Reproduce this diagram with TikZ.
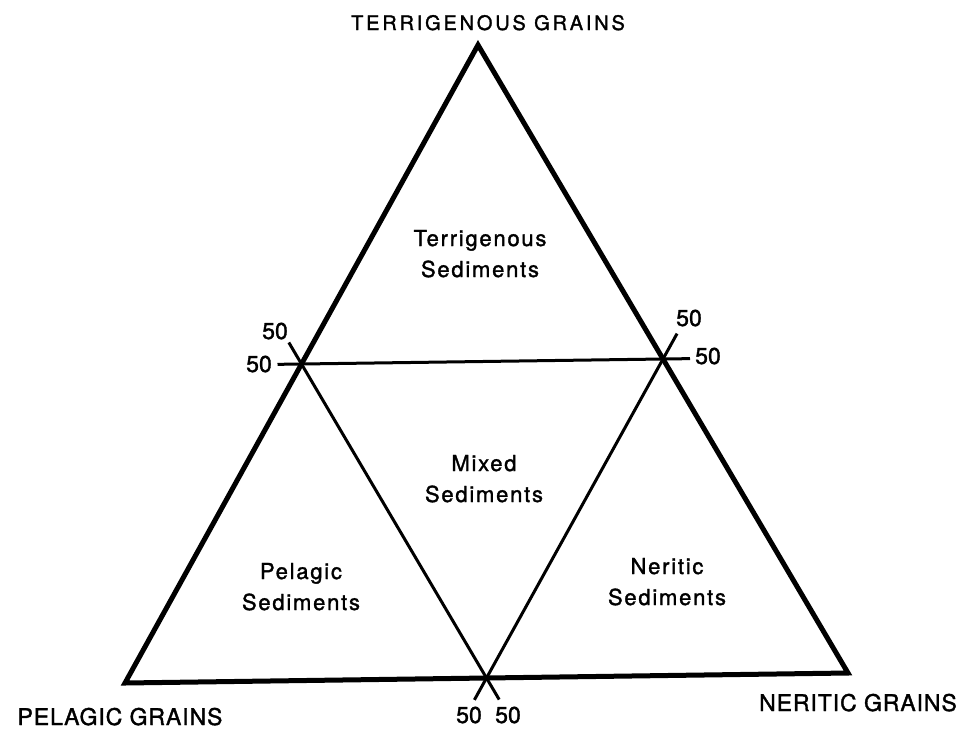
\documentclass[tikz,border=0pt]{standalone}
\usepackage{fontspec}
\setmainfont{TeX Gyre Heros}[FakeBold=1.5]
\usetikzlibrary{calc}
\tikzset{
  outer/.style={line width=5pt, line join=miter},
  inner/.style={line width=3pt},
  region/.style={align=center, font=\fontsize{22}{31}\selectfont\addfontfeature{LetterSpace=8,FakeBold=1.5}, inner sep=0pt, anchor=base},
  fifty/.style={font=\fontsize{23}{23}\selectfont\addfontfeature{FakeBold=1.5}, inner sep=0pt, anchor=base},
  title/.style={font=\fontsize{20}{20}\selectfont\addfontfeature{LetterSpace=14,FakeBold=1.5}, inner sep=0pt, anchor=base},
  corner/.style={font=\fontsize{23}{23}\selectfont\addfontfeature{LetterSpace=4,FakeBold=1.5}, inner sep=0pt, anchor=base},
}
\begin{document}
\begin{tikzpicture}[x=1pt,y=-1pt]
\useasboundingbox (0,0) rectangle (967,732);
% vertices
\coordinate (T) at (478,45);
\coordinate (PL) at (125,683);
\coordinate (NR) at (848,673);
% midpoints
\coordinate (L) at ($(T)!0.5!(PL)$);
\coordinate (R) at ($(T)!0.5!(NR)$);
\coordinate (B) at ($(PL)!0.5!(NR)$);
% tick ends
\coordinate (Lh) at ($(L)!-24pt!(R)$);
\coordinate (Rh) at ($(R)!-27pt!(L)$);
\coordinate (Ld) at ($(L)!-25pt!(B)$);
\coordinate (Bl) at ($(B)!-25pt!(L)$);
\coordinate (Rd) at ($(R)!-29pt!(B)$);
\coordinate (Br) at ($(B)!-25pt!(R)$);
% outer triangle
\draw[outer] (T) -- (PL) -- (NR) -- cycle;
% inner lines
\draw[inner] (Lh) -- (Rh);
\draw[inner] (Ld) -- (Bl);
\draw[inner] (Rd) -- (Br);
% region labels (base = last line)
\node[region] (terr) at (480,277) {Terrigenous\\Sediments};
\node[region] (mixed) at (484,502) {Mixed\\Sediments};
\node[region] (pel) at (301,610) {Pelagic\\Sediments};
\node[region] (ner) at (667,605) {Neritic\\Sediments};
% 50 labels
\node[fifty] (l1) at (275,339) {50};
\node[fifty] (l2) at (259,372) {50};
\node[fifty] (r1) at (689,326) {50};
\node[fifty] (r2) at (708,364) {50};
\node[fifty] (b1) at (469,723) {50};
\node[fifty] (b2) at (508,723) {50};
% corner labels
\node[title] (tg) at (488,30) {TERRIGENOUS GRAINS};
\node[corner] (pg) at (120,725) {PELAGIC GRAINS};
\node[corner] (ng) at (858,711) {NERITIC GRAINS};
\end{tikzpicture}
\end{document}
